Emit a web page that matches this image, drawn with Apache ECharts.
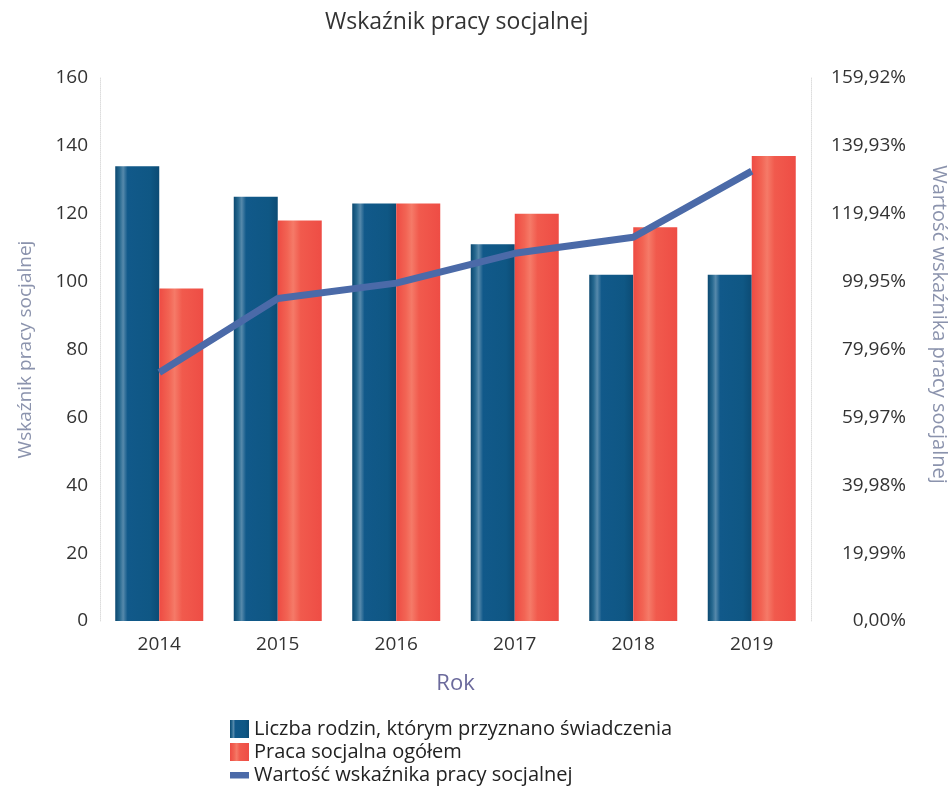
<!DOCTYPE html>
<html>
<head>
<meta charset="utf-8">
<title>Wskaźnik pracy socjalnej</title>
<script src="https://cdn.jsdelivr.net/npm/echarts@6/dist/echarts.min.js"></script>
<style>
  html, body { margin: 0; padding: 0; background: #fff; }
  #chart { width: 950px; height: 788px; }
</style>
</head>
<body>
<div id="chart"></div>
<script>
// dane
var years = ['2014', '2015', '2016', '2017', '2018', '2019'];
var rodziny = [134, 125, 123, 111, 102, 102];
var pracaSocjalna = [98, 118, 123, 120, 116, 137];
var wskaznik = [73.2, 95.0, 99.5, 108.3, 113.0, 132.5];
var rightTicks = ['0,00%', '19,99%', '39,98%', '59,97%', '79,96%', '99,95%', '119,94%', '139,93%', '159,92%'];

var chart = echarts.init(document.getElementById('chart'));

var blueGrad = new echarts.graphic.LinearGradient(0, 0, 1, 0, [
  { offset: 0, color: '#0b4870' },
  { offset: 0.1, color: '#26688f' },
  { offset: 0.18, color: '#5689ab' },
  { offset: 0.28, color: '#11598a' },
  { offset: 0.8, color: '#0f5784' },
  { offset: 1, color: '#0c4b74' }
]);
var redGrad = new echarts.graphic.LinearGradient(0, 0, 1, 0, [
  { offset: 0, color: '#ee4b43' },
  { offset: 0.22, color: '#f26454' },
  { offset: 0.35, color: '#f57a68' },
  { offset: 0.52, color: '#f15a4d' },
  { offset: 1, color: '#ee4d45' }
]);

var option = {
  textStyle: { fontFamily: 'Open Sans' },
  title: {
    text: 'Wskaźnik pracy socjalnej',
    left: 320,
    top: 6,
    textStyle: { fontSize: 23, fontWeight: 'normal', color: '#333' }
  },
  legend: {
    orient: 'vertical',
    left: 230,
    top: 719,
    padding: 0,
    itemGap: 3,
    itemWidth: 19,
    itemHeight: 18,
    textStyle: { fontSize: 20, color: '#222' },
    data: [
      { name: 'Liczba rodzin, którym przyznano świadczenia', icon: 'rect' },
      { name: 'Praca socjalna ogółem', icon: 'rect' },
      { name: 'Wartość wskaźnika pracy socjalnej', icon: 'path://M0,0 M0,18 M0,6 L19,6 L19,12.5 L0,12.5 Z' }
    ]
  },
  grid: { left: 100, right: 139, top: 78, bottom: 167, outerBoundsMode: 'none' },
  xAxis: {
    type: 'category',
    data: years,
    name: 'Rok',
    nameLocation: 'middle',
    nameGap: 52,
    nameTextStyle: { fontSize: 22, color: '#6b6a9c' },
    axisLine: { show: false },
    axisTick: { show: false },
    axisLabel: { fontSize: 19, color: '#333', margin: 14 }
  },
  yAxis: [
    {
      type: 'value',
      min: 0,
      max: 160,
      interval: 20,
      name: 'Wskaźnik pracy socjalnej',
      nameLocation: 'middle',
      nameGap: 65,
      nameTextStyle: { fontSize: 19, color: '#8b93ad' },
      axisLine: { show: true, lineStyle: { color: '#ddd', type: 'dotted' } },
      splitLine: { show: false },
      axisLabel: { fontSize: 19, color: '#333', margin: 12 }
    },
    {
      type: 'value',
      min: 0,
      max: 160,
      interval: 20,
      name: 'Wartość wskaźnika pracy socjalnej',
      nameLocation: 'middle',
      nameRotate: -90,
      nameGap: 118,
      nameTextStyle: { fontSize: 20, color: '#8b93ad', padding: [0, 50, 0, 0] },
      axisLine: { show: true, lineStyle: { color: '#ddd', type: 'dotted' } },
      splitLine: { show: false },
      axisLabel: {
        fontSize: 19, color: '#333', margin: 95, align: 'right',
        formatter: function (v, i) { return rightTicks[i]; }
      }
    }
  ],
  series: [
    {
      name: 'Liczba rodzin, którym przyznano świadczenia',
      type: 'bar',
      data: rodziny,
      barWidth: 44,
      barGap: '0%',
      itemStyle: { color: blueGrad },
      emphasis: { disabled: true }
    },
    {
      name: 'Praca socjalna ogółem',
      type: 'bar',
      data: pracaSocjalna,
      barWidth: 44,
      itemStyle: { color: redGrad },
      emphasis: { disabled: true }
    },
    {
      name: 'Wartość wskaźnika pracy socjalnej',
      type: 'line',
      yAxisIndex: 1,
      data: wskaznik.map(function (v) { return v * 160 / 159.92; }),
      symbol: 'none',
      lineStyle: { width: 7, color: '#4b6aa8' },
      itemStyle: { color: '#4b6aa8' },
      z: 5
    }
  ]
};

chart.setOption(option);
</script>
</body>
</html>
